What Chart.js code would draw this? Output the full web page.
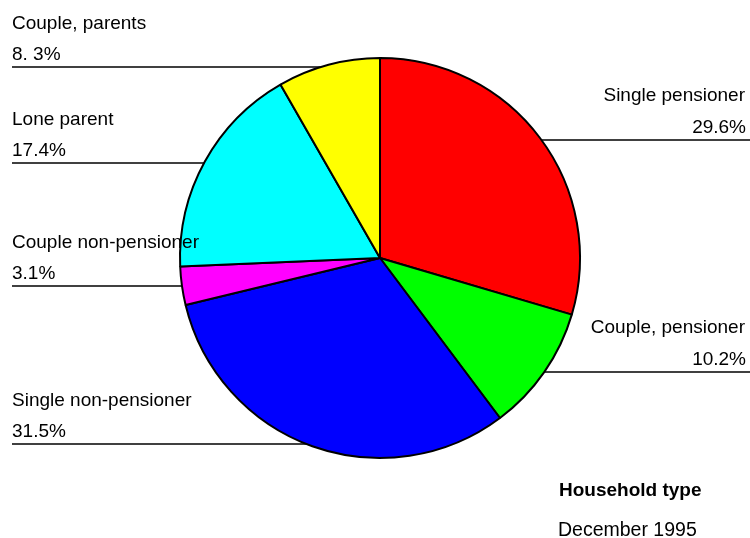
<!DOCTYPE html>
<html>
<head>
<meta charset="utf-8">
<script src="https://cdn.jsdelivr.net/npm/chart.js@4"></script>
<style>
  html, body { margin: 0; padding: 0; background: #fff; }
  #wrap { width: 750px; height: 538px; position: relative; }
</style>
</head>
<body>
<div id="wrap"><canvas id="chart"></canvas></div>
<script>
// data
const categories = ['Single pensioner', 'Couple, pensioner', 'Single non-pensioner', 'Couple non-pensioner', 'Lone parent', 'Couple, parents'];
const shares = [29.6, 10.2, 31.5, 3.1, 17.4, 8.3];
const shareLabels = ['29.6%', '10.2%', '31.5%', '3.1%', '17.4%', '8. 3%'];
const sliceColors = ['#ff0000', '#00ff00', '#0000ff', '#ff00ff', '#00ffff', '#ffff00'];

// label placement: side and y of the leader line
const labelLayout = [
  { side: 'right', y: 140 },
  { side: 'right', y: 372 },
  { side: 'left', y: 444 },
  { side: 'left', y: 286 },
  { side: 'left', y: 163 },
  { side: 'left', y: 67 }
];

const FONT = '"Liberation Sans", Arial, sans-serif';

// leader lines + labels drawn after the pie
const leaderLabels = {
  id: 'leaderLabels',
  afterDraw(chart) {
    const ctx = chart.ctx;
    const arc = chart.getDatasetMeta(0).data[0];
    const cx = arc.x, cy = arc.y, r = arc.outerRadius;
    ctx.save();
    ctx.strokeStyle = '#000';
    ctx.lineWidth = 1.5;
    ctx.fillStyle = '#000';
    ctx.font = '19px ' + FONT;
    ctx.textBaseline = 'alphabetic';
    labelLayout.forEach((l, i) => {
      const dy = l.y - cy;
      const dx = Math.sqrt(Math.max(r * r - dy * dy, 0));
      ctx.beginPath();
      if (l.side === 'left') {
        ctx.moveTo(12, l.y);
        ctx.lineTo(cx - dx, l.y);
        ctx.stroke();
        ctx.textAlign = 'left';
        ctx.fillText(categories[i], 12, l.y - 38);
        ctx.fillText(shareLabels[i], 12, l.y - 7);
      } else {
        ctx.moveTo(cx + dx, l.y);
        ctx.lineTo(750, l.y);
        ctx.stroke();
        ctx.textAlign = 'right';
        ctx.fillText(categories[i], 745, l.y - 39);
        ctx.fillText(shareLabels[i], 746, l.y - 7);
      }
    });
    ctx.textAlign = 'left';
    ctx.font = 'bold 19px ' + FONT;
    ctx.fillText('Household type', 559, 496);
    ctx.font = '19.5px ' + FONT;
    ctx.fillText('December 1995', 558, 536);
    ctx.restore();
  }
};

new Chart(document.getElementById('chart'), {
  type: 'pie',
  data: {
    labels: categories,
    datasets: [{
      data: shares,
      backgroundColor: sliceColors,
      borderColor: '#000',
      borderWidth: 2,
      hoverOffset: 0
    }]
  },
  options: {
    responsive: true,
    maintainAspectRatio: false,
    animation: false,
    layout: { padding: { left: 179, right: 169, top: 57, bottom: 79 } },
    plugins: {
      legend: { display: false },
      tooltip: { enabled: false }
    }
  },
  plugins: [leaderLabels]
});
</script>
</body>
</html>
